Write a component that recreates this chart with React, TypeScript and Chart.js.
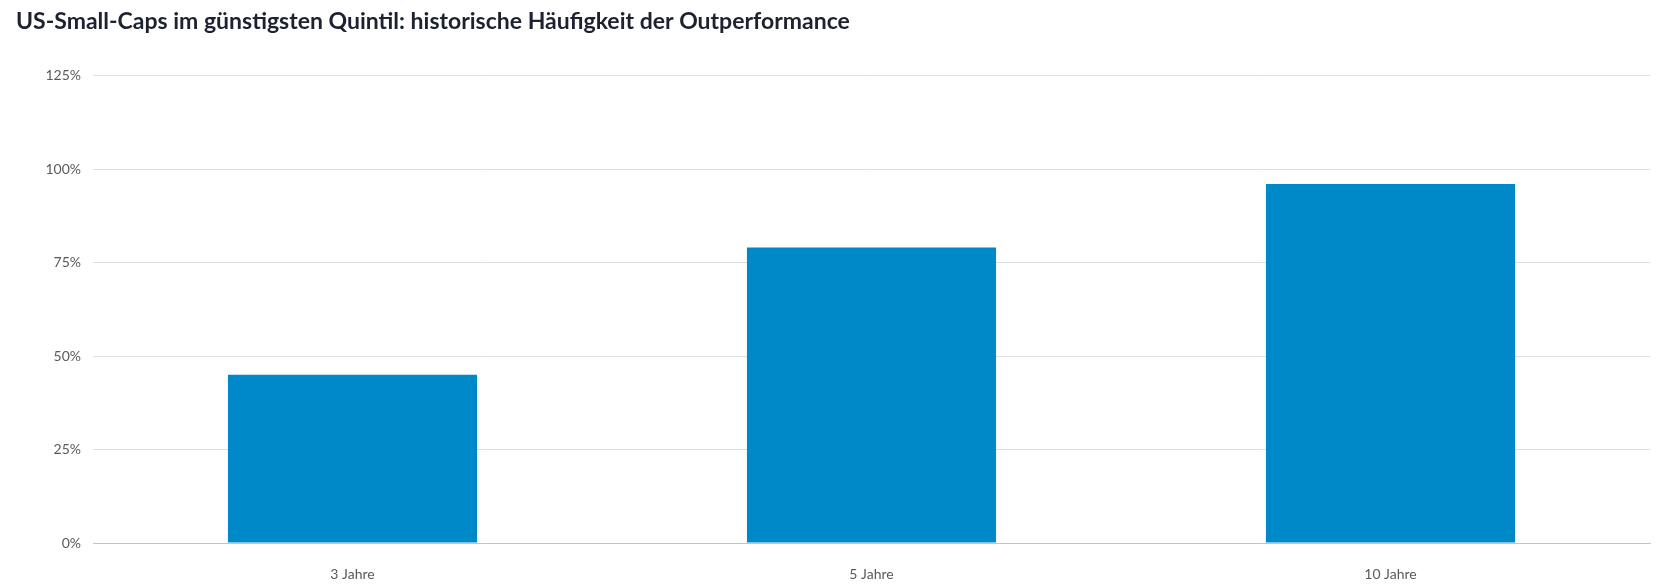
import React, { useEffect, useRef } from "react";
import { Chart, registerables } from "chart.js";

Chart.register(...registerables);

const categories = ["3 Jahre", "5 Jahre", "10 Jahre"];
const outperformance = [45, 79, 96];
const yTicks = [0, 25, 50, 75, 100, 125];
const titleText = "US-Small-Caps im günstigsten Quintil: historische Häufigkeit der Outperformance";

export default function App() {
  const ref = useRef<HTMLCanvasElement | null>(null);

  useEffect(() => {
    document.body.style.margin = "0";
    if (!ref.current) return;
    const chart = new Chart(ref.current, {
      type: "bar",
      data: {
        labels: categories,
        datasets: [
          {
            label: "Outperformance",
            data: outperformance,
            backgroundColor: "#0089C8",
            borderWidth: 0,
            categoryPercentage: 0.8,
            barPercentage: 0.6,
          },
        ],
      },
      options: {
        animation: false,
        responsive: false,
        maintainAspectRatio: false,
        layout: { padding: { left: 16, right: 12, top: 0, bottom: 0 } },
        plugins: {
          legend: { display: false },
          tooltip: { enabled: false },
          title: {
            display: true,
            text: titleText,
            align: "start",
            color: "#1c2230",
            font: { family: "Lato, 'Noto Sans', sans-serif", size: 23, weight: "bold", lineHeight: 1.2 },
            padding: { top: 8, bottom: 40 },
          },
        },
        scales: {
          x: {
            grid: { display: false },
            border: { display: true, color: "#c4c4c4", width: 1 },
            ticks: {
              color: "#5a5a5a",
              padding: 15,
              font: { family: "Lato, 'Noto Sans', sans-serif", size: 14 },
            },
            afterFit: (s: any) => {
              s.height = 42;
            },
          },
          y: {
            min: 0,
            max: 125,
            afterBuildTicks: (s: any) => {
              s.ticks = yTicks.map((v) => ({ value: v }));
            },
            grid: { color: "#dedede", drawTicks: false, lineWidth: 1 },
            border: { display: false },
            ticks: {
              color: "#5a5a5a",
              padding: 12,
              font: { family: "Lato, 'Noto Sans', sans-serif", size: 14 },
              callback: (v: any) => v + "%",
            },
            afterFit: (s: any) => {
              s.width = 77;
            },
          },
        },
      },
    });
    return () => chart.destroy();
  }, []);

  return (
    <div style={{ width: 1662, height: 585 }}>
      <canvas ref={ref} width={1662} height={585} style={{ display: "block", width: 1662, height: 585 }} />
    </div>
  );
}
